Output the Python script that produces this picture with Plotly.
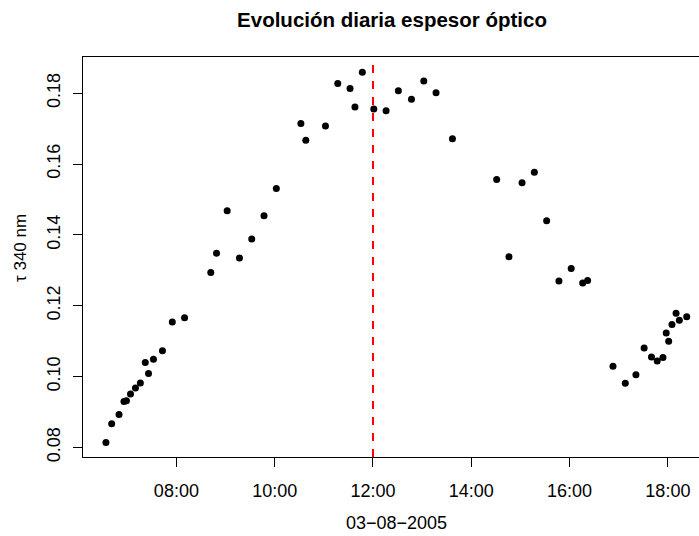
import plotly.graph_objects as go

DAY = "2005-08-03"
times = ["06:34", "06:41", "06:50", "06:56", "06:59", "07:04", "07:10", "07:16",
         "07:22", "07:26", "07:32", "07:43", "07:55", "08:10", "08:42", "08:49",
         "09:02", "09:17", "09:32", "09:47", "10:02", "10:32", "10:38", "11:02",
         "11:17", "11:32", "11:38", "11:47", "12:01", "12:16", "12:31", "12:47",
         "13:02", "13:17", "13:37", "14:31", "14:46", "15:02", "15:17", "15:32",
         "15:47", "16:02", "16:16", "16:22", "16:53", "17:08", "17:21", "17:31",
         "17:40", "17:47", "17:54", "17:58", "18:01", "18:05", "18:10", "18:14",
         "18:23"]
tau = [0.0814, 0.0867, 0.0893, 0.0930, 0.0932, 0.0951, 0.0968, 0.0982,
       0.1040, 0.1009, 0.1049, 0.1073, 0.1154, 0.1166, 0.1294, 0.1348,
       0.1468, 0.1335, 0.1388, 0.1454, 0.1531, 0.1714, 0.1667, 0.1707,
       0.1827, 0.1813, 0.1761, 0.1859, 0.1755, 0.1750, 0.1807, 0.1783,
       0.1834, 0.1801, 0.1671, 0.1556, 0.1338, 0.1547, 0.1577, 0.1440,
       0.1270, 0.1305, 0.1264, 0.1271, 0.1029, 0.0981, 0.1005, 0.1081,
       0.1055, 0.1044, 0.1054, 0.1123, 0.1100, 0.1147, 0.1179, 0.1159,
       0.1169]
noon = "12:00"
x_ticks = ["08:00", "10:00", "12:00", "14:00", "16:00", "18:00"]
y_ticks = [0.08, 0.10, 0.12, 0.14, 0.16, 0.18]
x_range = ["06:06", "18:38"]
y_range = [0.0773, 0.1902]

title = "<b>Evolución diaria espesor óptico</b>"
xlabel = "03\u221208\u22122005"
ylabel = "\u03c4 340 nm"

def dt(t):
    return f"{DAY} {t}:00"

FONT = "Liberation Sans, Arial, Helvetica, sans-serif"

fig = go.Figure()
fig.add_trace(go.Scatter(
    x=[dt(t) for t in times], y=tau, mode="markers",
    marker=dict(color="black", size=7, line=dict(width=0)),
    showlegend=False,
))

fig.add_shape(type="line", xref="x", yref="paper",
              x0=dt(noon), x1=dt(noon), y0=0, y1=1,
              line=dict(color="red", width=2, dash="8px,8px"))

fig.update_layout(
    width=699, height=536,
    margin=dict(l=83, r=0, t=57, b=79),
    paper_bgcolor="white", plot_bgcolor="white",
    font=dict(family=FONT, size=17, color="black"),
    title=dict(text=title, font=dict(size=20.5, family=FONT, color="black"),
               x=392 / 699, xref="container", xanchor="center",
               y=1 - 20 / 536, yref="container", yanchor="middle"),
    xaxis=dict(
        type="date", range=[dt(x_range[0]), dt(x_range[1])],
        tickvals=[dt(t) for t in x_ticks], ticktext=x_ticks,
        showgrid=False, zeroline=False,
        showline=True, linecolor="black", linewidth=1, mirror=True,
        ticks="outside", ticklen=9, tickcolor="black", tickwidth=1,
        ticklabelstandoff=8,
        tickfont=dict(size=18),
    ),
    yaxis=dict(
        range=y_range, tickvals=y_ticks,
        ticktext=[f"{v:.2f}" for v in y_ticks],
        tickangle=-90,
        showgrid=False, zeroline=False,
        showline=True, linecolor="black", linewidth=1,
        ticks="outside", ticklen=9, tickcolor="black", tickwidth=1,
        ticklabelstandoff=6,
        tickfont=dict(size=18),
    ),
    annotations=[
        dict(text=xlabel, xref="paper", yref="paper",
             x=(396 - 83) / 616, y=-(523 - 457) / 400,
             xanchor="center", yanchor="middle", showarrow=False,
             font=dict(size=18)),
        dict(text=ylabel, xref="paper", yref="paper",
             x=-(83 - 20) / 616, y=(457 - 248) / 400, textangle=-90,
             xanchor="center", yanchor="middle", showarrow=False,
             font=dict(size=17)),
    ],
)

fig.write_html("out.html")
